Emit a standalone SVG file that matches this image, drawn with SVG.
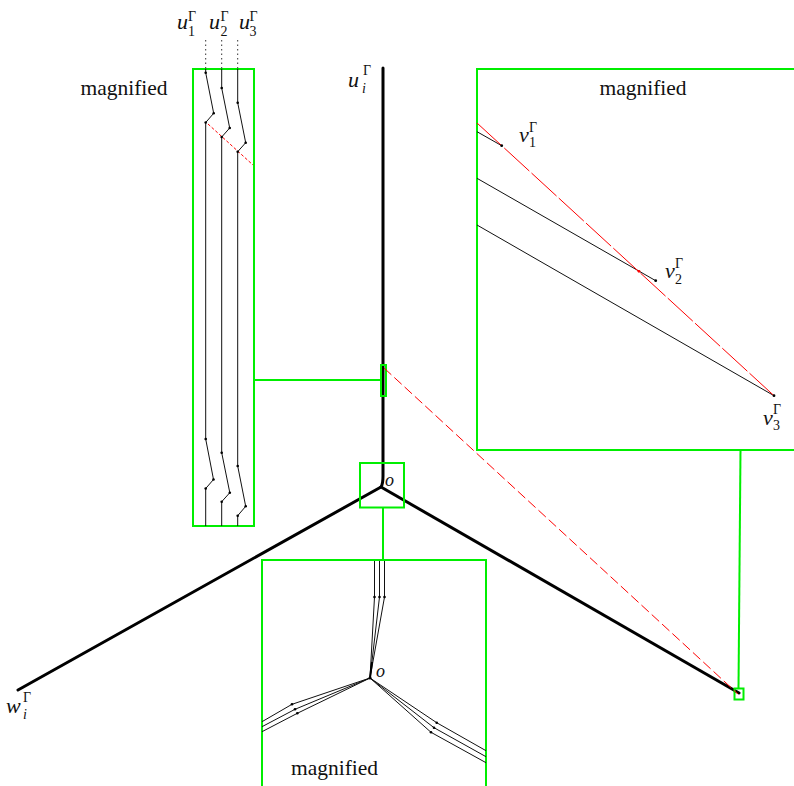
<svg xmlns="http://www.w3.org/2000/svg" width="794" height="786" viewBox="0 0 794 786">
<style>
.thick{fill:none;stroke:#000;stroke-width:3;stroke-linecap:round;stroke-linejoin:round}
.thin{fill:none;stroke:#111;stroke-width:1}
.green{fill:none;stroke:#00ee00;stroke-width:2}
.red{fill:none;stroke:#ff0000;stroke-width:1}
.dot{fill:#000}
text{font-family:"Liberation Serif","Times New Roman","DejaVu Serif",serif;fill:#111}
.mi{font-style:italic;font-size:22px}
.sup{font-size:14px}
.sub{font-size:14px}
.subi{font-style:italic;font-size:14px}
.lbl{font-size:21.5px;text-anchor:middle}
</style>
<rect width="794" height="786" fill="#fff"/>

<g id="main-graph">
  <path class="thick" d="M383,68 L383,476 Q383,484 381,487"/>
  <line class="thick" x1="381" y1="487" x2="18" y2="690"/>
  <line class="thick" x1="381" y1="487" x2="739" y2="693"/>
  <text class="mi" x="385" y="486" style="font-size:18px">o</text>
</g>

<g id="label-ui">
  <text class="mi" x="348" y="87">u</text>
  <text class="sup" x="363" y="75">Γ</text>
  <text class="subi" x="362" y="93">i</text>
</g>
<g id="label-wi">
  <text class="mi" x="6" y="713">w</text>
  <text class="sup" x="23" y="702">Γ</text>
  <text class="subi" x="23" y="719">i</text>
</g>

<g id="left-magnified">
  <rect class="green" x="193" y="69" width="61" height="457"/>
  <text class="lbl" x="124" y="95">magnified</text>
  <g stroke="#333" stroke-width="1" stroke-dasharray="1.5 3">
    <line x1="205.7" y1="40" x2="205.7" y2="69"/>
    <line x1="221.7" y1="40" x2="221.7" y2="69"/>
    <line x1="237.7" y1="40" x2="237.7" y2="69"/>
  </g>
  <path class="thin" d="M205.7,69 L205.7,72.7 L213.7,113.3 L205.7,122.5 L205.7,439 L213.5,479.5 L205.7,488.5 L205.7,526"/>
  <path class="thin" d="M221.7,69 L221.7,88 L229.7,128 L221.7,137 L221.7,452.7 L229.8,492.7 L221.7,501.7 L221.7,526"/>
  <path class="thin" d="M237.7,69 L237.7,102.7 L245.7,142.7 L237.7,151.7 L237.7,466 L245.7,506.3 L237.7,515.7 L237.7,526"/>
  <line class="red" x1="208" y1="124" x2="253" y2="165" stroke-dasharray="3 2"/>
  <g class="dot">
    <circle cx="205.7" cy="72.7" r="1.3"/><circle cx="213.7" cy="113.3" r="1.3"/><circle cx="205.7" cy="122.5" r="1.3"/>
    <circle cx="221.7" cy="88" r="1.3"/><circle cx="229.7" cy="128" r="1.3"/><circle cx="221.7" cy="137" r="1.3"/>
    <circle cx="237.7" cy="102.7" r="1.3"/><circle cx="245.7" cy="142.7" r="1.3"/><circle cx="237.7" cy="151.7" r="1.3"/>
    <circle cx="205.7" cy="439" r="1.3"/><circle cx="213.5" cy="479.5" r="1.3"/><circle cx="205.7" cy="488.5" r="1.3"/>
    <circle cx="221.7" cy="452.7" r="1.3"/><circle cx="229.8" cy="492.7" r="1.3"/><circle cx="221.7" cy="501.7" r="1.3"/>
    <circle cx="237.7" cy="466" r="1.3"/><circle cx="245.7" cy="506.3" r="1.3"/><circle cx="237.7" cy="515.7" r="1.3"/>
  </g>
  <text class="mi" x="177" y="29">u</text><text class="sup" x="188" y="21">Γ</text><text class="sub" x="188" y="36">1</text>
  <text class="mi" x="209" y="29">u</text><text class="sup" x="220.5" y="21">Γ</text><text class="sub" x="220.5" y="36">2</text>
  <text class="mi" x="239" y="29">u</text><text class="sup" x="249.5" y="21">Γ</text><text class="sub" x="249.5" y="36">3</text>
</g>

<g id="center-small-box">
  <rect class="green" x="381" y="365" width="5" height="31"/>
</g>
<g id="o-box">
  <rect class="green" x="360" y="463" width="44" height="44.5"/>
</g>
<g id="corner-small-box">
  <rect class="green" x="734.5" y="688.5" width="9" height="11"/>
</g>

<g id="right-magnified">
  <path class="green" d="M795,69 L477,69 L477,450 L795,450"/>
  <text class="lbl" x="643" y="95">magnified</text>
  <line class="thin" x1="477" y1="131.7" x2="501.7" y2="145.7"/>
  <line class="thin" x1="477" y1="178.3" x2="655.7" y2="280.7"/>
  <line class="thin" x1="477" y1="225" x2="774" y2="395.7"/>
  <line class="red" x1="477" y1="123" x2="774" y2="395.7" stroke-dasharray="34 3"/>
  <circle class="dot" cx="501.7" cy="145.7" r="1.4"/>
  <circle class="dot" cx="655.7" cy="280.7" r="1.4"/>
  <circle cx="639" cy="271.3" r="1.4" fill="#ff0000"/>
  <circle class="dot" cx="774" cy="395.7" r="1.4"/>
  <text class="mi" x="519" y="142">v</text><text class="sup" x="529" y="132">Γ</text><text class="sub" x="529" y="147">1</text>
  <text class="mi" x="665" y="278">v</text><text class="sup" x="675" y="268">Γ</text><text class="sub" x="675" y="284">2</text>
  <text class="mi" x="763" y="425">v</text><text class="sup" x="773" y="414">Γ</text><text class="sub" x="773" y="430">3</text>
</g>

<g id="bottom-magnified">
  <path class="green" d="M262,787 L262,560 L486,560 L486,787"/>
  <text class="lbl" x="334.5" y="775">magnified</text>
  <path class="thin" d="M374.5,561 L374.5,597 L370,678"/>
  <path class="thin" d="M379.5,561 L379.5,597 L370,678"/>
  <path class="thin" d="M384.5,561 L384.5,597 L370,678"/>
  <path class="thin" d="M370,678 L292,704.3 L262,721.7"/>
  <path class="thin" d="M370,678 L295,709.3 L262,726.7"/>
  <path class="thin" d="M370,678 L297.3,713.3 L262,731.7"/>
  <path class="thin" d="M370,678 L436.7,722.7 L486,750.7"/>
  <path class="thin" d="M370,678 L434,727.7 L486,756.7"/>
  <path class="thin" d="M370,678 L431,732.3 L486,762.7"/>
  <path d="M370,678 L372,662" stroke="#000" stroke-width="2"/>
  <g class="dot">
    <circle cx="374.5" cy="597" r="1.3"/><circle cx="379.5" cy="597" r="1.3"/><circle cx="384.5" cy="597" r="1.3"/>
    <circle cx="292" cy="704.3" r="1.3"/><circle cx="295" cy="709.3" r="1.3"/><circle cx="297.3" cy="713.3" r="1.3"/>
    <circle cx="436.7" cy="722.7" r="1.3"/><circle cx="434" cy="727.7" r="1.3"/><circle cx="431" cy="732.3" r="1.3"/>
    <circle cx="370" cy="678" r="1.6"/>
  </g>
  <text class="mi" x="376" y="677" style="font-size:18px">o</text>
</g>

<g id="connectors">
  <line class="green" x1="254" y1="380" x2="381" y2="380"/>
  <line class="green" x1="383" y1="507.5" x2="383" y2="560"/>
  <line class="green" x1="740.5" y1="450" x2="738.5" y2="688.5"/>
  <line class="red" x1="384" y1="368" x2="738" y2="694" stroke-dasharray="10 4"/>
</g>
</svg>
